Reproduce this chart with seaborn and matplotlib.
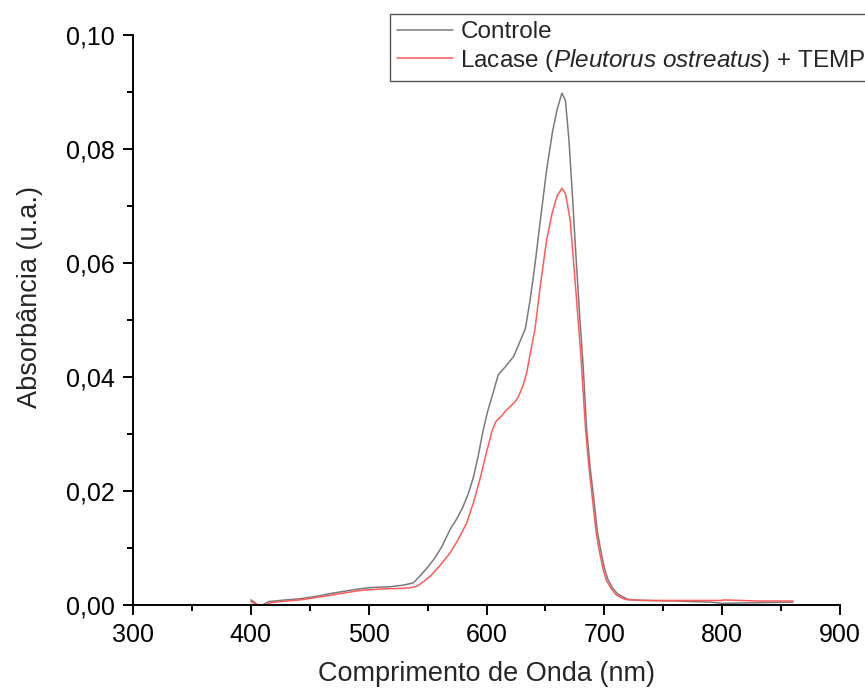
import matplotlib
matplotlib.use("Agg")
import matplotlib.pyplot as plt
import seaborn as sns
import pandas as pd
from matplotlib.ticker import AutoMinorLocator, FuncFormatter

# ---- data ----
ctrl_wl = [400, 403, 405, 410, 415, 420, 430, 442, 455, 470, 485, 495, 505, 518, 530,
           538, 544, 550, 556, 562, 569, 575, 580, 585, 589, 593, 597, 601, 605, 610,
           616, 623, 629, 633, 637, 641, 646, 651, 656, 660, 664, 667, 670, 673, 676,
           679, 682, 685, 688, 691, 694, 697, 700, 703, 707, 711, 715, 720, 730, 760,
           790, 800, 830, 860]
ctrl_abs = [0.0009, 0.0005, 0.0001, 0.0000, 0.0006, 0.0007, 0.0009, 0.0011, 0.0015,
            0.0021, 0.0026, 0.0029, 0.0031, 0.0032, 0.0035, 0.0039, 0.0052, 0.0066,
            0.0082, 0.0102, 0.0132, 0.0152, 0.0172, 0.0198, 0.0225, 0.0262, 0.0305,
            0.0340, 0.0368, 0.0404, 0.0418, 0.0436, 0.0465, 0.0485, 0.0535, 0.0595,
            0.0680, 0.0763, 0.0830, 0.0870, 0.0898, 0.0885, 0.0815, 0.0715, 0.0610,
            0.0510, 0.0420, 0.0307, 0.0240, 0.0187, 0.0130, 0.0095, 0.0065, 0.0045,
            0.0030, 0.0020, 0.0015, 0.0010, 0.0008, 0.0007, 0.0005, 0.0003, 0.0004,
            0.0005]

lac_wl = [400, 403, 406, 412, 417, 425, 442, 455, 470, 485, 495, 510, 525, 535, 541,
          546, 552, 560, 569, 576, 583, 589, 595, 600, 605, 608, 612, 616, 620, 624,
          627, 631, 634, 637, 641, 646, 651, 656, 660, 664, 667, 671, 674, 677, 680,
          684, 687, 690, 693, 696, 699, 702, 706, 710, 715, 720, 740, 770, 800, 801,
          830, 860]
lac_abs = [0.0006, 0.0003, 0.0000, 0.0000, 0.0004, 0.0006, 0.0009, 0.0013, 0.0018,
           0.0023, 0.0026, 0.0028, 0.0029, 0.0030, 0.0033, 0.0040, 0.0050, 0.0068,
           0.0091, 0.0115, 0.0143, 0.0180, 0.0225, 0.0268, 0.0307, 0.0322, 0.0330,
           0.0340, 0.0348, 0.0356, 0.0365, 0.0385, 0.0406, 0.0440, 0.0482, 0.0565,
           0.0640, 0.0690, 0.0718, 0.0731, 0.0722, 0.0675, 0.0600, 0.0520, 0.0440,
           0.0310, 0.0240, 0.0185, 0.0128, 0.0092, 0.0062, 0.0042, 0.0028, 0.0018,
           0.0012, 0.0009, 0.0008, 0.0008, 0.0008, 0.0009, 0.0007, 0.0007]

series_names = ["Controle", "Lacase ($\\it{Pleutorus\\ ostreatus}$) + TEMPO"]
series_colors = ["#7a7a7a", "#ff5a5a"]

x_ticks = [300, 400, 500, 600, 700, 800, 900]
y_ticks = [0.00, 0.02, 0.04, 0.06, 0.08, 0.10]

df = pd.concat([
    pd.DataFrame({"wl": ctrl_wl, "abs": ctrl_abs, "serie": series_names[0]}),
    pd.DataFrame({"wl": lac_wl, "abs": lac_abs, "serie": series_names[1]}),
], ignore_index=True)

# ---- style ----
sns.set_theme(style="ticks")
plt.rcParams["font.family"] = ["Liberation Sans", "DejaVu Sans"]
plt.rcParams["mathtext.fontset"] = "custom"
plt.rcParams["mathtext.rm"] = "Liberation Sans"
plt.rcParams["mathtext.it"] = "Liberation Sans:italic"

fig = plt.figure(figsize=(8.65, 6.9), dpi=100)
ax = fig.add_axes([133 / 865, 1 - 605 / 690, (840 - 133) / 865, (605 - 35) / 690])

sns.lineplot(data=df, x="wl", y="abs", hue="serie", hue_order=series_names,
             palette=dict(zip(series_names, series_colors)), linewidth=1.1,
             estimator=None, sort=False, ax=ax)

ax.set_xlim(x_ticks[0], x_ticks[-1])
ax.set_ylim(y_ticks[0], y_ticks[-1])
ax.set_xticks(x_ticks)
ax.set_yticks(y_ticks)
ax.xaxis.set_minor_locator(AutoMinorLocator(2))
ax.yaxis.set_minor_locator(AutoMinorLocator(2))
ax.yaxis.set_major_formatter(FuncFormatter(lambda v, p: f"{v:.2f}".replace(".", ",")))

for s in ["top", "right"]:
    ax.spines[s].set_visible(False)
for s in ["left", "bottom"]:
    ax.spines[s].set_linewidth(1.4)
    ax.spines[s].set_color("black")

ax.tick_params(axis="both", which="major", direction="out", length=7, width=1.4,
               labelsize=18, colors="black", pad=6)
ax.tick_params(axis="both", which="minor", direction="out", length=4.5, width=1.4,
               colors="black")

ax.set_xlabel("Comprimento de Onda (nm)", fontsize=19.5, labelpad=10)
ax.set_ylabel("Absorbância (u.a.)", fontsize=19.5)
ax.yaxis.set_label_coords(-0.128, 0.54)

handles, labels = ax.get_legend_handles_labels()
ax.legend(handles, labels, loc="upper left",
          bbox_to_anchor=(390 / 865, 1 - 14 / 690), bbox_transform=fig.transFigure,
          fontsize=17.5, frameon=True, fancybox=False, framealpha=1,
          edgecolor="#555555", handlelength=2.3, handletextpad=0.3,
          labelspacing=0.15, borderpad=0.3, borderaxespad=0)
ax.get_legend().get_frame().set_linewidth(1.0)

fig.savefig("out.png", dpi=100)
